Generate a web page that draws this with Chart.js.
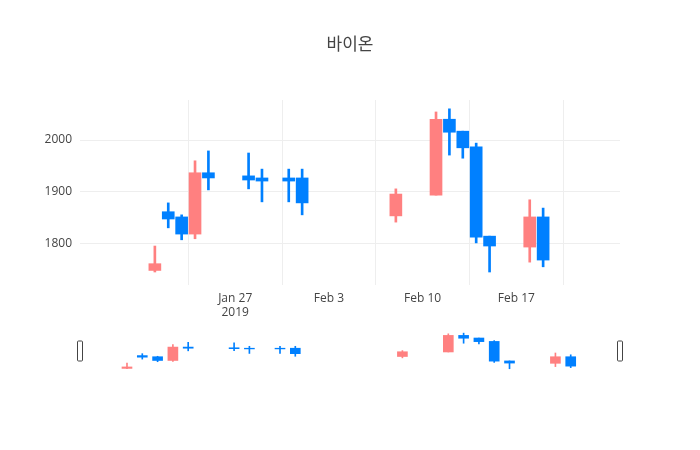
<!DOCTYPE html>
<html><head><meta charset="utf-8">
<script src="https://cdn.jsdelivr.net/npm/chart.js@4"></script>
<style>body{margin:0;background:#fff}#w{position:relative;width:700px;height:450px}
canvas{position:absolute;left:0;top:0}</style></head>
<body><div id="w"><div style="position:absolute;left:0;top:0;width:700px;height:450px"><canvas id="c" width="700" height="450"></canvas></div>
<div style="position:absolute;left:0;top:331px;width:700px;height:40px"><canvas id="s" width="700" height="40"></canvas></div></div>
<script>
const title = "바이온";
// day-of-year 2019
const days = [21,22,23,24,25,28,29,31,32,39,42,43,44,45,46,49,50];
const opens = [1749,1862,1852,1819,1937,1931,1927,1927,1927,1854,1894,2040,2017,1987,1815,1794,1852];
const highs = [1796,1879,1856,1960,1979,1975,1944,1944,1944,1906,2054,2060,2017,1994,1815,1885,1869];
const lows  = [1746,1831,1808,1810,1904,1906,1881,1881,1856,1842,1894,1971,1965,1802,1746,1765,1756];
const closes= [1762,1848,1819,1937,1927,1923,1921,1921,1879,1896,2040,2015,1985,1813,1796,1852,1769];
const tickDays = [27,34,41,48];
const tickLabels = [["Jan 27","2019"],"Feb 3","Feb 10","Feb 17"];
const yTicks = [1800,1900,2000];
const UP="#ff8080", DN="#0080ff";
const col = opens.map((o,i)=>closes[i]>=o?UP:DN);
const bodies = days.map((d,i)=>({x:d,y:[opens[i],closes[i]]}));
const wicks = days.map((d,i)=>({x:d,y:[lows[i],highs[i]]}));
const F="'Open Sans', sans-serif";
function ds(bw,ww){return [
 {type:'bar',data:bodies,backgroundColor:col,borderColor:col,borderWidth:0,barThickness:bw,grouped:false,order:1},
 {type:'bar',data:wicks,backgroundColor:col,borderWidth:0,barThickness:ww,grouped:false,order:2}];}
new Chart(document.getElementById('c'),{type:'bar',data:{datasets:ds(12,2)},
 options:{responsive:false,animation:false,devicePixelRatio:1,
  layout:{padding:{top:100,right:80,bottom:125,left:0}},
  plugins:{legend:{display:false},tooltip:{enabled:false}},
  scales:{x:{type:'linear',min:20.45,max:50.7,
     afterFit:s=>{s.height=40},
     afterBuildTicks:s=>{s.ticks=tickDays.map(v=>({value:v}))},
     ticks:{callback:(v)=>tickLabels[tickDays.indexOf(v)],color:'#444',font:{family:F,size:12},maxRotation:0,autoSkip:false,padding:6},
     grid:{color:'#eee',drawTicks:false},border:{display:false}},
   y:{min:1721,max:2077,afterFit:s=>{s.width=80},
     afterBuildTicks:s=>{s.ticks=yTicks.map(v=>({value:v}))},
     ticks:{callback:v=>String(v),color:'#444',font:{family:F,size:12},padding:8},
     grid:{color:'#eee',drawTicks:false},border:{display:false}}}},
 plugins:[{id:'t',afterDraw(c){const x=c.ctx;x.save();x.fillStyle='#444';x.font="17px 'Noto Sans CJK KR'";
  x.textAlign='center';x.textBaseline='middle';x.fillText(title,350,44);x.restore();}}]
});
new Chart(document.getElementById('s'),{type:'bar',data:{datasets:ds(10,1)},
 options:{responsive:false,animation:false,devicePixelRatio:1,
  layout:{padding:{top:1,right:80,bottom:1,left:80}},
  plugins:{legend:{display:false},tooltip:{enabled:false}},
  scales:{x:{type:'linear',min:20.45,max:50.7,display:false},y:{min:1735,max:2070,display:false}}},
 plugins:[{id:'h',afterDraw(c){const x=c.ctx,a=c.chartArea;x.save();
  [a.left,a.right].forEach(px=>{x.fillStyle='#fff';x.strokeStyle='#444';x.beginPath();
   x.roundRect(px-2.5,10,5,20,1);x.fill();x.stroke();});x.restore();}}]
});
</script></body></html>
